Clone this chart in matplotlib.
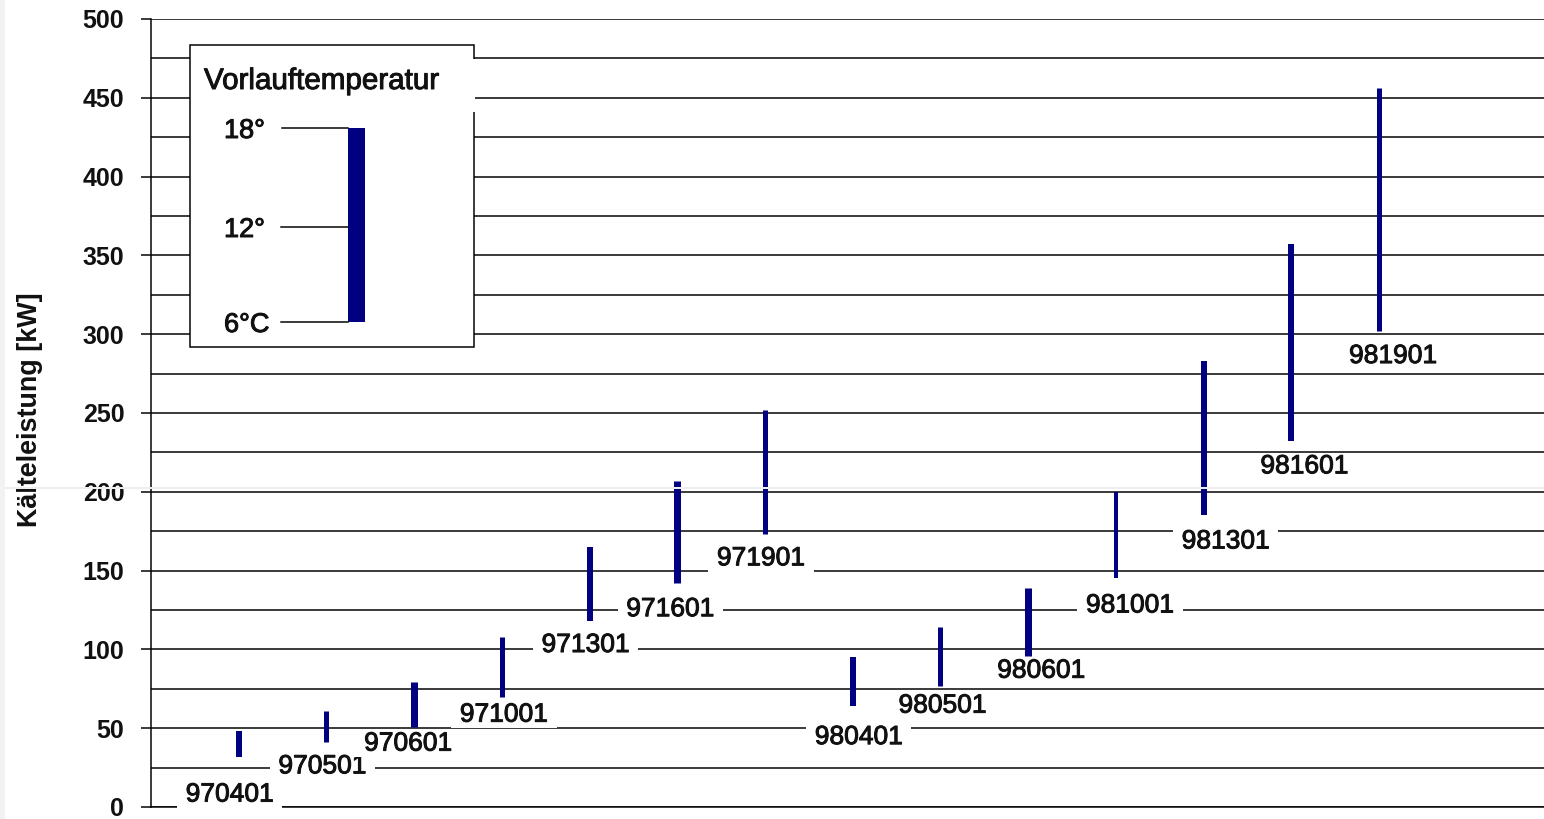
import matplotlib
matplotlib.use("Agg")
import matplotlib.pyplot as plt
import matplotlib.patheffects as pe
from matplotlib.patches import Rectangle
from matplotlib.lines import Line2D

plt.rcParams['font.family'] = ['Liberation Sans', 'DejaVu Sans']

# Cooling capacity range per unit (kW): low at 6 °C, high at 18 °C flow temperature
models = ["970401", "970501", "970601", "971001", "971301", "971601", "971901",
          "980401", "980501", "980601", "981001", "981301", "981601", "981901"]
low_kw = [32, 41, 51, 70, 118, 142, 173, 64, 77, 96, 145, 185, 232, 302]
high_kw = [48, 61, 79, 108, 165, 207, 252, 95, 114, 139, 200, 283, 357, 456]

y_ticks = list(range(0, 501, 50))
y_label = "Kälteleistung [kW]"
legend_title = "Vorlauftemperatur"
legend_marks = ["18°", "12°", "6°C"]

# styling: bar widths (px) and label offsets (px) relative to each bar's lower end
bar_px = [6, 5, 7, 5, 6, 7, 5, 6, 5, 7, 4, 6, 6, 5]
label_off = [(-9, 38), (-4, 24), (-6, 17), (2, 18), (-4, 24), (-7, 26), (-4, 24),
             (6, 31), (2, 20), (13, 15), (14, 27), (22, 26), (13, 25), (14, 25)]

W, H = 1544, 819
NAVY = "#000080"
INK = "#111111"
PX = 0.72  # points per pixel at 100 dpi
heavy = [pe.withStroke(linewidth=0.7, foreground=INK)]

fig = plt.figure(figsize=(W / 100, H / 100), dpi=100)
fig.patch.set_facecolor("white")

ax = fig.add_axes([151 / W, 12 / H, 1 - 151 / W, (807 - 19) / H])
ax.set_xlim(0, 15.88)
ax.set_ylim(0, 500)

ax.set_yticks(y_ticks)
ax.set_yticks(range(0, 501, 25), minor=True)
ax.set_yticklabels([str(v) for v in y_ticks], fontsize=18, fontweight="bold",
                   color=INK)
ax.tick_params(axis="y", which="major", length=10 * PX, width=1.5 * PX,
               color="black", pad=12)
ax.tick_params(axis="y", which="minor", length=0)
ax.set_xticks([])
ax.grid(axis="y", which="both", color="black", lw=1.5 * PX, zorder=1)
ax.set_axisbelow(True)
for side in ("top", "right"):
    ax.spines[side].set_visible(False)
for side in ("left", "bottom"):
    ax.spines[side].set_linewidth(1.5 * PX)
    ax.spines[side].set_color("black")

fig.text(30 / W, 1 - 410 / H, y_label, rotation=90, ha="center", va="center",
         fontsize=19.4, fontweight="bold", color=INK)

positions = list(range(1, len(models) + 1))
for x, lo, hi, name, w, (dx, dy) in zip(positions, low_kw, high_kw, models,
                                         bar_px, label_off):
    ax.plot([x, x], [lo, hi], color=NAVY, lw=w * PX, solid_capstyle="butt",
            zorder=3)
    ax.annotate(" " + name + " ", xy=(x, lo), xytext=(dx, -dy),
                textcoords="offset pixels", ha="center", va="center",
                fontsize=19, color=INK, zorder=4, path_effects=heavy,
                bbox=dict(boxstyle="square,pad=0.05", fc="white", ec="none"))


def fx(px):
    return px / W


def fy(py):
    return 1 - py / H


# legend box
fig.add_artist(Rectangle((fx(190), fy(347)), fx(474) - fx(190), fy(45) - fy(347),
                         transform=fig.transFigure, fc="white", ec="black",
                         lw=1.5 * PX, zorder=2))
fig.add_artist(Rectangle((fx(471), fy(112)), fx(475) - fx(471), fy(59) - fy(112),
                         transform=fig.transFigure, fc="white", ec="none",
                         zorder=2.5))
fig.text(fx(204), fy(81), legend_title, ha="left", va="center", fontsize=21.3,
         color=INK, path_effects=heavy, zorder=3)
fig.add_artist(Rectangle((fx(348), fy(322)), fx(365) - fx(348), fy(128) - fy(322),
                         transform=fig.transFigure, fc=NAVY, ec="none", zorder=3))
for ypx, xs, txt in zip([128, 227, 322], [282, 281, 281], legend_marks):
    fig.add_artist(Line2D([fx(xs), fx(348)], [fy(ypx), fy(ypx)],
                          transform=fig.transFigure, color="black",
                          lw=1.5 * PX, zorder=3))
    fig.text(fx(224), fy(ypx + 3), txt, ha="left", va="center", fontsize=19.5,
             color=INK, path_effects=heavy, zorder=3)

# thin light seam across the page and light left margin strip
fig.add_artist(Line2D([0, 1], [fy(488), fy(488)], transform=fig.transFigure,
                      color="#eeeeee", lw=2 * PX, zorder=10))
fig.add_artist(Rectangle((0, 0), fx(5), 1, transform=fig.transFigure,
                         fc="#f2f2f2", ec="none", zorder=10))

fig.savefig("out.png", dpi=100)
